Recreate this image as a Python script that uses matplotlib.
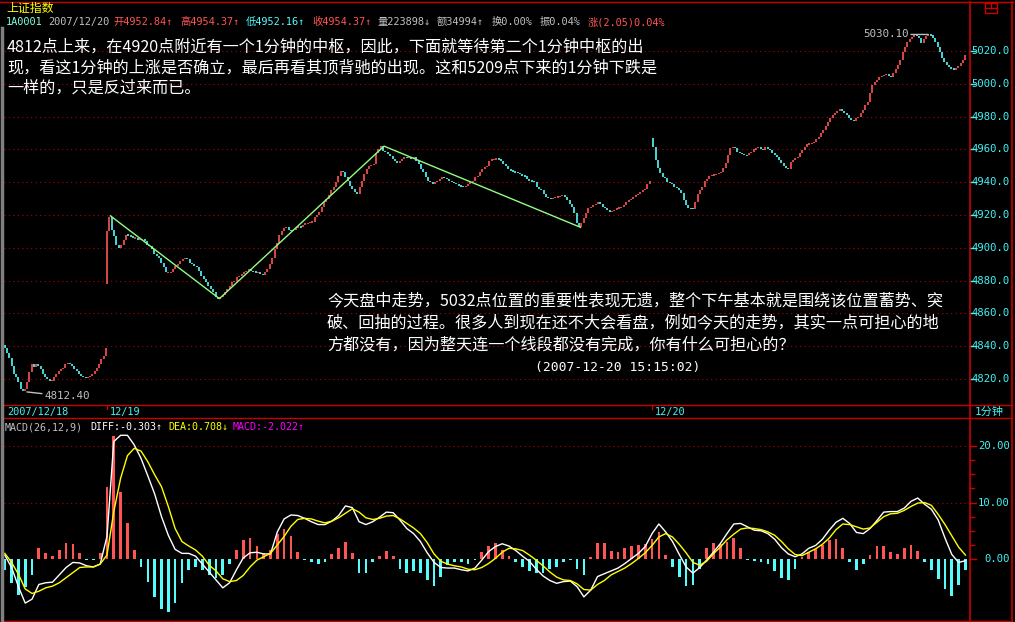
import numpy as np
import matplotlib
matplotlib.use("Agg")
import matplotlib.pyplot as plt
from matplotlib.transforms import blended_transform_factory

W, H = 1015, 622

# ---- 1-minute closes ----
d18_open = 4841.0
d18_close = [
    4839, 4836, 4833, 4828, 4823, 4821, 4818, 4814, 4812.4, 4814,
    4818, 4824, 4829, 4827.5, 4829, 4828, 4826, 4823, 4821, 4820,
    4819, 4819, 4821, 4823, 4825, 4826, 4827, 4829, 4830, 4829,
    4828, 4826, 4825, 4823, 4822, 4821, 4820.5, 4821, 4822, 4823,
    4825, 4827, 4829, 4832, 4834, 4839]
d19_open = 4878.0
d19_close = [
    4910, 4919, 4911, 4907, 4902, 4900, 4902, 4905, 4908, 4907.5,
    4907, 4906, 4906, 4905, 4905, 4905.5, 4904, 4902, 4901, 4899,
    4896, 4895, 4894, 4891, 4888, 4885, 4885, 4885, 4887, 4889,
    4890, 4892, 4893, 4894, 4893, 4891, 4890, 4889, 4888, 4886,
    4883, 4881, 4879, 4877, 4875, 4873, 4870, 4868.5, 4870, 4871,
    4873, 4875, 4877, 4879, 4880, 4882, 4883, 4884, 4885, 4886,
    4887, 4886, 4885.5, 4885, 4885, 4884, 4883.5, 4885, 4887, 4890,
    4894, 4899, 4903, 4908, 4910, 4912, 4912.5, 4911, 4910.5, 4911,
    4912, 4913, 4912.5, 4914, 4915, 4915, 4915.5, 4916, 4919, 4920,
    4922, 4925, 4928, 4930, 4932, 4935, 4937, 4940, 4944, 4947,
    4946, 4943, 4941, 4938, 4936, 4934, 4933, 4937, 4941, 4945,
    4948, 4950, 4950.5, 4951, 4958, 4960, 4962, 4959, 4958.5, 4957,
    4956, 4954, 4953, 4952, 4953, 4954, 4955.5, 4955, 4955, 4954.5,
    4955.5, 4953, 4951, 4948, 4946, 4943, 4941, 4940, 4939, 4940,
    4941, 4942, 4943, 4942.5, 4942, 4941, 4940, 4939.5, 4939, 4938,
    4937.5, 4937, 4938, 4939, 4940, 4941, 4943, 4944, 4946, 4948,
    4949, 4950, 4953, 4954, 4954, 4954.5, 4954, 4953, 4951, 4950,
    4948, 4947, 4946.5, 4946, 4945.5, 4945, 4944, 4943.5, 4942, 4941,
    4940.5, 4940, 4937, 4936, 4935, 4933, 4931, 4930.5, 4930, 4930.5,
    4931, 4931, 4931.5, 4932, 4931, 4929, 4927, 4925, 4921, 4915,
    4912.5, 4915, 4918, 4921, 4924, 4925, 4926, 4927, 4927.5, 4927,
    4925, 4924, 4923, 4922, 4922.5, 4923, 4924, 4924.5, 4925, 4926,
    4928, 4929, 4930, 4931, 4932, 4933, 4934, 4935, 4936, 4939,
    4941]
d20_open = 4967.2
d20_close = [
    4961.7, 4953.5, 4948.5, 4945.4, 4943.4, 4942.4, 4940.3, 4939.3, 4939.0, 4937.3,
    4936.3, 4935.2, 4933.2, 4929.1, 4926.1, 4924.1, 4924.0, 4923.8, 4928.0, 4933.0,
    4935.0, 4937.0, 4941.0, 4942.0, 4944.0, 4944.4, 4944.4, 4945.0, 4945.4, 4946.4,
    4948.5, 4951.5, 4956.6, 4960.7, 4961.7, 4960.7, 4958.6, 4958.0, 4957.2, 4956.6,
    4956.3, 4958.0, 4958.6, 4960.0, 4960.7, 4961.3, 4960.0, 4959.8, 4961.7, 4960.2,
    4959.6, 4958.0, 4956.6, 4955.2, 4953.5, 4951.5, 4949.9, 4948.5, 4948.0, 4952.6,
    4953.5, 4954.6, 4955.6, 4957.6, 4959.6, 4961.7, 4963.3, 4963.5, 4963.7, 4964.7,
    4966.2, 4967.8, 4969.8, 4971.8, 4974.3, 4976.9, 4979.0, 4981.0, 4982.4, 4983.6,
    4984.4, 4983.6, 4982.4, 4981.0, 4979.0, 4977.9, 4977.5, 4979.0, 4980.0, 4982.0,
    4984.0, 4987.0, 4989.0, 4994.5, 4999.3, 5001.3, 5002.3, 5004.0, 5004.8, 5005.4,
    5006.0, 5004.8, 5004.4, 5006.8, 5008.8, 5011.5, 5014.5, 5019.6, 5022.6, 5025.7,
    5027.1, 5028.4, 5029.8, 5029.1, 5027.7, 5025.0, 5027.1, 5029.2, 5030.1, 5029.5,
    5027.7, 5025.7, 5022.6, 5019.6, 5015.5, 5013.5, 5011.5, 5010.4, 5009.2, 5008.8,
    5009.4, 5010.9, 5012.5, 5014.5, 5017.6]

# minute scale: 0 = 12/19 open, 240 = 12/20 open
d18_span = (-45.0, -0.5)
d19_span = (0.0, 239.0)
d20_span = (240.6, 378.0)

# 1-minute strokes (minute, price)
stroke_t = [1.5, 49.5, 122.0, 208.5]
stroke_p = [4919.5, 4869.0, 4962.0, 4912.5]

# MACD(26,12,9), one reading every 3 minutes
macd_span = (-45.0, 378.0)
diff = [0.7, -1.5, -4.9, -7.8, -7.1, -4.5, -4.2, -4.1, -2.8, -1.5,
        -0.6, -0.7, -1.2, -1.4, -0.9, 4.0, 20.8, 21.9, 21.9, 20.2,
        17.8, 14.7, 11.5, 7.5, 4.2, 1.7, 1.0, 1.0, 0.5, -0.9,
        -2.3, -3.7, -5.1, -4.2, -1.9, 0.2, 1.1, 1.2, 0.9, 0.9,
        4.8, 7.1, 7.8, 7.7, 7.2, 6.6, 6.1, 6.1, 6.7, 7.7,
        9.4, 9.1, 6.6, 6.1, 6.6, 7.4, 8.3, 8.2, 6.9, 5.4,
        4.5, 3.1, 1.1, -0.6, -1.5, -1.6, -1.6, -1.9, -2.1, -1.6,
        -0.2, 1.3, 2.2, 2.7, 2.3, 1.5, 0.5, -0.4, -1.8, -3.0,
        -3.8, -4.3, -4.0, -3.9, -4.9, -6.7, -5.5, -3.1, -2.6, -2.1,
        -1.6, -0.8, 0.1, 1.0, 2.2, 4.5, 6.2, 4.8, 3.1, 0.8,
        -1.4, -2.5, -1.5, -0.2, 1.2, 2.7, 4.5, 6.2, 6.3, 5.7,
        5.1, 5.0, 4.5, 3.5, 2.0, 0.9, 0.4, 0.9, 1.9, 2.4,
        3.5, 5.1, 6.5, 7.2, 6.3, 4.7, 4.5, 5.4, 6.8, 8.3,
        8.4, 8.4, 9.0, 10.2, 10.8, 9.7, 8.8, 6.9, 3.7, 0.8,
        -0.6, -0.3]
dea = [1.0, -0.6, -2.7, -5.3, -6.1, -5.7, -5.1, -4.8, -4.2, -3.3,
       -2.4, -1.5, -1.4, -1.4, -0.9, 0.7, 8.4, 14.3, 18.3, 19.6,
       19.1, 17.2, 14.9, 12.8, 9.3, 5.4, 3.1, 2.3, 1.6, 0.5,
       -1.1, -2.1, -3.5, -4.0, -3.8, -2.9, -1.4, -0.2, 0.4, 1.0,
       2.5, 4.0, 5.8, 7.0, 7.2, 7.1, 6.7, 6.4, 6.7, 7.3,
       8.1, 8.9, 8.3, 7.3, 7.0, 7.2, 7.6, 7.7, 7.1, 6.3,
       5.5, 4.5, 2.9, 0.9, -0.4, -0.9, -1.2, -1.4, -1.8, -1.9,
       -1.5, -0.8, 0.1, 1.2, 1.9, 1.8, 1.5, 0.7, -0.2, -1.2,
       -2.3, -3.2, -3.7, -3.8, -4.4, -5.4, -5.5, -4.5, -3.8, -2.8,
       -2.2, -1.6, -0.8, 0.1, 1.1, 2.4, 3.9, 4.5, 3.9, 2.6,
       1.1, -0.6, -1.1, -0.4, 0.9, 2.1, 3.4, 4.4, 5.3, 5.5,
       5.4, 5.2, 4.8, 4.2, 3.1, 1.8, 0.8, 0.6, 1.2, 1.8,
       2.6, 3.7, 5.2, 6.2, 6.1, 5.7, 5.3, 5.5, 6.5, 7.5,
       8.0, 8.1, 8.6, 9.3, 9.9, 10.0, 9.5, 7.9, 6.1, 4.1,
       2.1, 0.7]
macd_bar = [-2.0, -4.3, -6.4, -4.9, -2.8, 1.9, 1.0, 0.5, 1.6, 2.8,
            2.7, 1.1, -0.1, -0.1, 1.0, 12.8, 21.7, 11.9, 6.3, 1.6,
            -1.4, -4.0, -6.7, -8.9, -9.3, -7.7, -4.3, -1.9, -1.4, -1.9,
            -2.8, -3.4, -2.8, -0.8, 1.6, 3.4, 3.7, 2.3, 1.0, 1.6,
            4.4, 5.4, 4.0, 1.3, -0.1, -0.5, -0.8, -0.6, 0.9, 1.9,
            3.0, 1.1, -2.4, -2.4, -0.6, 0.5, 1.5, 0.5, -1.8, -2.5,
            -2.2, -2.5, -3.7, -4.7, -3.1, -1.1, -0.6, -0.5, -0.9, -0.1,
            1.3, 2.3, 2.9, 1.6, 0.5, -0.6, -1.4, -2.1, -2.4, -2.4,
            -1.7, -1.5, -0.5, -0.1, -1.8, -2.8, 0.3, 2.8, 2.8, 1.5,
            1.3, 1.9, 2.3, 2.5, 2.6, 3.6, 4.8, 0.7, -1.5, -3.2,
            -4.7, -4.6, -1.7, 1.9, 2.8, 2.7, 3.1, 3.8, 1.9, -0.1,
            -0.3, -0.5, -0.9, -2.1, -3.4, -3.8, -1.7, 0.3, 1.3, 1.7,
            2.5, 3.4, 3.5, 1.9, -0.5, -1.9, -0.9, 0.7, 2.3, 2.3,
            1.3, 0.9, 1.9, 2.5, 1.5, -0.6, -1.9, -3.5, -5.3, -6.5,
            -4.6, -2.0]

price_ticks = [4820, 4840, 4860, 4880, 4900, 4920, 4940, 4960, 4980, 5000, 5020]
macd_ticks = [0, 10, 20]
macd_minor = [2.5, 5, 7.5, 12.5, 15, 17.5]

note1 = ["4812点上来，在4920点附近有一个1分钟的中枢，因此，下面就等待第二个1分钟中枢的出",
         "现，看这1分钟的上涨是否确立，最后再看其顶背驰的出现。这和5209点下来的1分钟下跌是",
         "一样的，只是反过来而已。"]
note2 = ["今天盘中走势，5032点位置的重要性表现无遗，整个下午基本就是围绕该位置蓄势、突",
         "破、回抽的过程。很多人到现在还不大会看盘，例如今天的走势，其实一点可担心的地",
         "方都没有，因为整天连一个线段都没有完成，你有什么可担心的？"]
stamp = "(2007-12-20 15:15:02)"

RED = "#ff5454"
CYAN = "#54fcfc"
AXIS_CYAN = "#40f4f4"
GRID = "#b00000"
FRAME = "#c80000"
GREEN = "#90ff80"
GRAY = "#c0c0c0"
YELLOW = "#ffff00"
MAGENTA = "#ff00ff"
MONO = ["DejaVu Sans Mono", "Noto Sans CJK SC"]
CJK = ["Noto Sans CJK SC", "DejaVu Sans"]

fig = plt.figure(figsize=(W / 100, H / 100), dpi=100, facecolor="black")

# ---------------- price panel ----------------
ax = fig.add_axes([4 / W, 1 - 405 / H, 966 / W, 403 / H])
ax.set_xlim(-45.35, 380.0)
ax.set_ylim(4804.15, 5049.9)
ax.axis("off")
for v in price_ticks:
    ax.axhline(v, color=GRID, lw=0.8, ls=(0, (1, 3)), zorder=1)


def draw_session(open_, closes, span):
    c = np.asarray(closes, float)
    t = np.linspace(span[0], span[1], len(c))
    prev = np.concatenate([[open_], c[:-1]])
    lo, hi = np.minimum(prev, c), np.maximum(prev, c)
    mid = (lo + hi) / 2
    thin = (hi - lo) < 0.8
    lo = np.where(thin, mid - 0.4, lo)
    hi = np.where(thin, mid + 0.4, hi)
    up = c >= prev
    ax.vlines(t[up], lo[up], hi[up], colors=RED, lw=1.2, zorder=3)
    ax.vlines(t[~up], lo[~up], hi[~up], colors=CYAN, lw=1.2, zorder=3)
    return t, c


t18, c18 = draw_session(d18_open, d18_close, d18_span)
t19, c19 = draw_session(d19_open, d19_close, d19_span)
t20, c20 = draw_session(d20_open, d20_close, d20_span)

ax.plot(stroke_t, stroke_p, color=GREEN, lw=1, zorder=4)

i_lo = int(np.argmin(c18))
ax.annotate(f"{c18[i_lo]:.2f}", xy=(t18[i_lo], c18[i_lo]), xytext=(22, -5),
            textcoords="offset pixels", ha="left", va="center", color=GRAY,
            fontsize=7.8, family=MONO,
            arrowprops=dict(arrowstyle="-", color=GRAY, lw=1, shrinkA=0, shrinkB=3))
i_hi = int(np.argmax(c20))
ax.annotate(f"{c20[i_hi]:.2f}", xy=(t20[i_hi], c20[i_hi]), xytext=(-20, 0),
            textcoords="offset pixels", ha="right", va="center", color=GRAY,
            fontsize=7.8, family=MONO,
            arrowprops=dict(arrowstyle="-", color=GRAY, lw=1, shrinkA=0, shrinkB=0))

tr = blended_transform_factory(fig.transFigure, ax.transData)
for v in price_ticks:
    ax.text(1010 / W, v, f"{v:.1f}", transform=tr, ha="right", va="center",
            color=AXIS_CYAN, fontsize=7.6, family=MONO)
    ax.plot([970 / W, 975 / W], [v, v], transform=tr, color=AXIS_CYAN, lw=1, clip_on=False)

# ---------------- MACD panel ----------------
ax2 = fig.add_axes([4 / W, 1 - 621 / H, 966 / W, 203 / H])
ax2.set_xlim(-45.35, 380.0)
ax2.set_ylim(-10.97, 24.96)
ax2.axis("off")
for v in (10, 20):
    ax2.axhline(v, color=GRID, lw=0.8, ls=(0, (1, 3)), zorder=1)

mb = np.asarray(macd_bar, float)
th = np.linspace(macd_span[0], macd_span[1], len(mb))
ax2.bar(th, mb, width=1.2, color=np.where(mb >= 0, RED, CYAN), linewidth=0, zorder=2)
tl = np.linspace(macd_span[0], macd_span[1], len(diff))
ax2.plot(tl, diff, color="white", lw=1, zorder=3)
ax2.plot(tl, dea, color=YELLOW, lw=1, zorder=3)

tr2 = blended_transform_factory(fig.transFigure, ax2.transData)
for v in macd_ticks:
    ax2.text(1010 / W, v, f"{v:.2f}", transform=tr2, ha="right", va="center",
             color=AXIS_CYAN, fontsize=7.6, family=MONO)
    ax2.plot([970 / W, 976 / W], [v, v], transform=tr2, color=FRAME, lw=1, clip_on=False)
for v in macd_minor:
    ax2.plot([970 / W, 974 / W], [v, v], transform=tr2, color=FRAME, lw=1, clip_on=False)

# ---------------- frame and texts (pixel overlay) ----------------
ov = fig.add_axes([0, 0, 1, 1])
ov.set_xlim(0, W)
ov.set_ylim(H, 0)
ov.axis("off")

ov.plot([0, 1013], [1.5, 1.5], color=FRAME, lw=1)
ov.plot([970, 970], [2, 621], color=FRAME, lw=1.2)
ov.plot([1012, 1012], [2, 621], color=FRAME, lw=1.2)
for yy in (405, 418, 621):
    ov.plot([4, 1012], [yy, yy], color=FRAME, lw=1)
ov.plot([2, 2], [28, 622], color="#808080", lw=2.5)
for t0 in (0, 240):
    xpix = 107 + t0 * 2.271
    ov.plot([xpix, xpix], [405, 409], color=FRAME, lw=1)
# small window icon
ov.plot([985, 997, 997, 985, 985], [3, 3, 13, 13, 3], color=FRAME, lw=1)
ov.plot([985, 997], [8, 8], color=FRAME, lw=1)
ov.plot([991, 991], [3, 8], color=FRAME, lw=1)

ov.text(6, 8, "上证指数", color=YELLOW, fontsize=8.6, family=CJK, ha="left", va="center")
header = [
    (6, "1A0001", "#80ffe0"),
    (48, "2007/12/20", GRAY),
    (113, "开4952.84↑", RED),
    (180, "高4954.37↑", RED),
    (246, "低4952.16↑", CYAN),
    (312, "收4954.37↑", RED),
    (378, "量223898↓", GRAY),
    (437, "额34994↑", GRAY),
    (492, "换0.00%", GRAY),
    (540, "振0.04%", GRAY),
    (588, "涨(2.05)0.04%", RED),
]
for xpix, s, col in header:
    ov.text(xpix, 22, s, color=col, fontsize=7.4, family=MONO, ha="left", va="center")

macd_head = [
    (5, "MACD(26,12,9)", GRAY),
    (90, "DIFF:-0.303↑", "white"),
    (168, "DEA:0.708↓", YELLOW),
    (233, "MACD:-2.022↑", MAGENTA),
]
for xpix, s, col in macd_head:
    ov.text(xpix, 427, s, color=col, fontsize=7.2, family=MONO, ha="left", va="center")

for xpix, s in [(7, "2007/12/18"), (110, "12/19"), (655, "12/20")]:
    ov.text(xpix, 411.5, s, color=AXIS_CYAN, fontsize=7.4, family=MONO, ha="left", va="center")
ov.text(975, 411.5, "1分钟", color=AXIS_CYAN, fontsize=8, family=MONO, ha="left", va="center")

for i, line in enumerate(note1):
    ov.text(7, 47 + i * 20.5, line, color="white", fontsize=11.6, family=CJK,
            ha="left", va="center")
for i, line in enumerate(note2):
    ov.text(327, 301 + i * 22, line, color="white", fontsize=11.6, family=CJK,
            ha="left", va="center")
ov.text(535, 367, stamp, color="white", fontsize=9.4, family=MONO, ha="left", va="center")

fig.savefig("out.png", dpi=100, facecolor="black")
